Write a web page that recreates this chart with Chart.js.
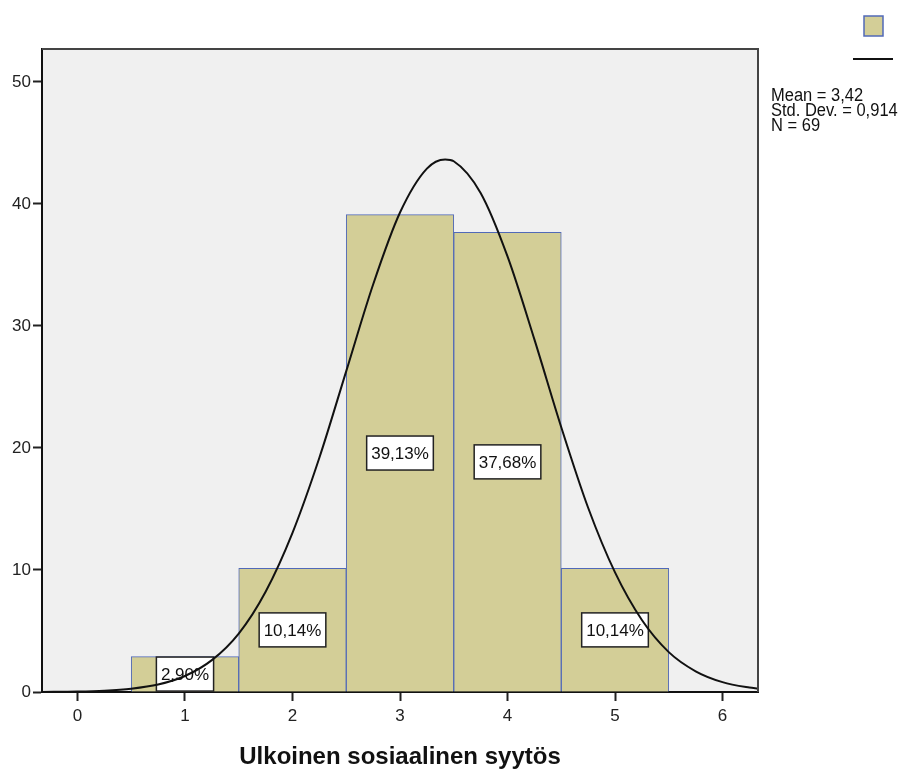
<!DOCTYPE html>
<html>
<head>
<meta charset="utf-8">
<script src="https://cdn.jsdelivr.net/npm/chart.js@4.4.1/dist/chart.umd.min.js"></script>
<style>
  html, body { margin: 0; padding: 0; background: #fff; }
  #wrap { width: 906px; height: 769px; }
</style>
</head>
<body>
<div id="wrap"><canvas id="chartHist"></canvas></div>
<script>
// histogram bins (percent of N)
const binCenters = [1, 2, 3, 4, 5];
const percentValues = [2.90, 10.14, 39.13, 37.68, 10.14];
const percentLabels = ['2,90%', '10,14%', '39,13%', '37,68%', '10,14%'];

// normal curve
const curveX = [-0.33, 0, 0.25, 0.5, 0.75, 1, 1.25, 1.5, 1.75, 2, 2.25, 2.5, 2.75, 3, 3.25, 3.42, 3.5, 3.75, 4, 4.25, 4.5, 4.75, 5, 5.25, 5.5, 5.75, 6, 6.25, 6.33];
const curveY = [0.01, 0.04, 0.11, 0.27, 0.61, 1.31, 2.61, 4.79, 8.22, 13.05, 19.2, 26.3, 33.4, 39.3, 42.9, 43.65, 43.5, 40.9, 35.7, 28.9, 21.7, 15.1, 9.8, 5.9, 3.27, 1.7, 0.81, 0.36, 0.27];

const xTicks = [0, 1, 2, 3, 4, 5, 6];
const yTicks = [0, 10, 20, 30, 40, 50];
const statsText = ['Mean = 3,42', 'Std. Dev. = 0,914', 'N = 69'];

const barFill = '#d3ce97';
const barEdge = '#5169b8';

// grey plot background + frame
const plotFrame = {
  id: 'plotFrame',
  beforeDraw(chart) {
    const { ctx, chartArea: a } = chart;
    ctx.save();
    ctx.fillStyle = '#f0f0f0';
    ctx.fillRect(a.left, a.top, a.right - a.left, a.bottom - a.top);
    ctx.restore();
  },
  afterDraw(chart) {
    const { ctx, chartArea: a } = chart;
    ctx.save();
    ctx.strokeStyle = '#444';
    ctx.lineWidth = 2;
    ctx.beginPath();
    ctx.moveTo(a.left, a.top);
    ctx.lineTo(a.right, a.top);
    ctx.lineTo(a.right, a.bottom);
    ctx.stroke();
    ctx.restore();
  }
};

// percent boxes in the middle of each bar (curve goes over them)
const barLabels = {
  id: 'barLabels',
  afterDatasetDraw(chart, args) {
    if (args.index !== 0) return;
    const ctx = chart.ctx;
    ctx.save();
    ctx.font = '17px Arial, "Liberation Sans", sans-serif';
    ctx.textAlign = 'center';
    ctx.textBaseline = 'middle';
    args.meta.data.forEach((bar, i) => {
      const txt = percentLabels[i];
      const cx = bar.x;
      const cy = (bar.y + bar.base) / 2;
      const w = ctx.measureText(txt).width + 9;
      const h = 34;
      ctx.fillStyle = '#fff';
      ctx.fillRect(cx - w / 2, cy - h / 2, w, h);
      ctx.strokeStyle = '#222';
      ctx.lineWidth = 1.5;
      ctx.strokeRect(cx - w / 2, cy - h / 2, w, h);
      ctx.fillStyle = '#111';
      ctx.fillText(txt, cx, cy + 1);
    });
    ctx.restore();
  }
};

// legend swatches and stats on the right
const sideLegend = {
  id: 'sideLegend',
  afterDraw(chart) {
    const ctx = chart.ctx;
    ctx.save();
    ctx.fillStyle = barFill;
    ctx.fillRect(864, 16, 19, 20);
    ctx.strokeStyle = barEdge;
    ctx.lineWidth = 1.5;
    ctx.strokeRect(864, 16, 19, 20);
    ctx.strokeStyle = '#111';
    ctx.lineWidth = 2;
    ctx.beginPath();
    ctx.moveTo(853, 59);
    ctx.lineTo(893, 59);
    ctx.stroke();
    ctx.fillStyle = '#111';
    ctx.font = '16.5px Arial, "Liberation Sans", sans-serif';
    ctx.textBaseline = 'alphabetic';
    // text in the original is a bit taller than wide
    statsText.forEach((t, i) => {
      ctx.save();
      ctx.translate(771, 100.7 + i * 15);
      ctx.scale(1, 1.1);
      ctx.fillText(t, 0, 0);
      ctx.restore();
    });
    ctx.restore();
  }
};

const ctx1 = document.getElementById('chartHist').getContext('2d');
new Chart(ctx1, {
  type: 'bar',
  data: {
    datasets: [{
      type: 'bar',
      data: binCenters.map((x, i) => ({ x, y: percentValues[i] })),
      backgroundColor: barFill,
      borderColor: barEdge,
      borderWidth: 1,
      barPercentage: 1,
      categoryPercentage: 1,
      order: 1
    }, {
      type: 'line',
      data: curveX.map((x, i) => ({ x, y: curveY[i] })),
      borderColor: '#111',
      borderWidth: 2,
      pointRadius: 0,
      cubicInterpolationMode: 'monotone',
      fill: false,
      order: 0
    }]
  },
  options: {
    responsive: true,
    maintainAspectRatio: false,
    animation: false,
    layout: { padding: { top: 49, right: 148, left: 0, bottom: 0 } },
    plugins: { legend: { display: false }, tooltip: { enabled: false } },
    scales: {
      x: {
        type: 'linear',
        min: -0.33,
        max: 6.33,
        offset: false,
        afterBuildTicks: s => { s.ticks = xTicks.map(v => ({ value: v })); },
        afterFit: s => { s.height = 77; },
        grid: { offset: false, drawOnChartArea: false, tickLength: 9, tickWidth: 2, color: '#222' },
        border: { color: '#111', width: 2 },
        ticks: { color: '#222', font: { size: 17, family: 'Arial' }, padding: 5, maxRotation: 0, autoSkip: false },
        title: {
          display: true,
          text: 'Ulkoinen sosiaalinen syytös',
          color: '#111',
          font: { size: 24, weight: 'bold', family: 'Arial' },
          padding: { top: 0, bottom: -3 }
        }
      },
      y: {
        min: 0,
        max: 52.7,
        afterBuildTicks: s => { s.ticks = yTicks.map(v => ({ value: v })); },
        afterFit: s => { s.width = 42; },
        grid: { drawOnChartArea: false, tickLength: 9, tickWidth: 2, color: '#222' },
        border: { color: '#111', width: 2 },
        ticks: { color: '#222', font: { size: 17, family: 'Arial' }, padding: 2 }
      }
    }
  },
  plugins: [plotFrame, barLabels, sideLegend]
});
</script>
</body>
</html>
